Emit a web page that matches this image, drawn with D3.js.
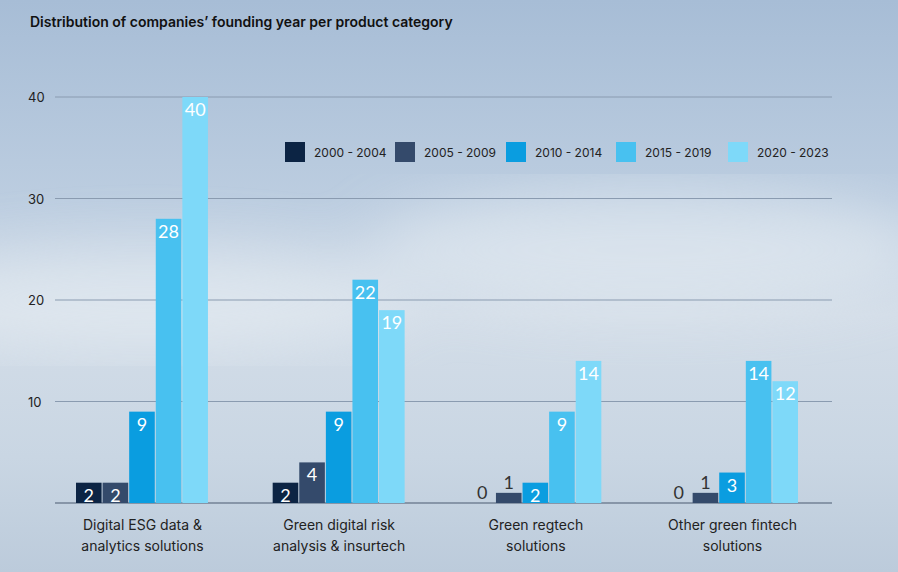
<!DOCTYPE html>
<html><head><meta charset="utf-8">
<script src="https://cdn.jsdelivr.net/npm/d3@7"></script>
<style>body{margin:0}svg{display:block}</style></head>
<body><svg id="c" width="898" height="572"></svg>
<script>
const categories=[["Digital ESG data &","analytics solutions"],["Green digital risk","analysis & insurtech"],["Green regtech","solutions"],["Other green fintech","solutions"]];
const seriesNames=["2000 - 2004","2005 - 2009","2010 - 2014","2015 - 2019","2020 - 2023"];
const colors=["#0c2444","#344a6b","#0a9de0","#48c1f0","#7ed9f9"];
const values=[[2,2,9,28,40],[2,4,9,22,19],[0,1,2,9,14],[0,1,3,14,12]];
const yTicks=[10,20,30,40];

const svg=d3.select("#c");
const defs=svg.append("defs");
const g=defs.append("linearGradient").attr("id","bg").attr("x1",0).attr("y1",0).attr("x2",0).attr("y2",1);
[[0,"#a7bdd6"],[0.35,"#bccde0"],[0.55,"#d3dde8"],[0.8,"#c9d6e3"],[1,"#bccbdb"]].forEach(([o,c])=>g.append("stop").attr("offset",o).attr("stop-color",c));
defs.append("filter").attr("id","blur").append("feGaussianBlur").attr("stdDeviation",30);
svg.append("rect").attr("width",898).attr("height",572).attr("fill","url(#bg)");
const cl=svg.append("g").attr("filter","url(#blur)").attr("fill","#e6edf3").attr("opacity",0.6);
cl.append("ellipse").attr("cx",150).attr("cy",300).attr("rx",260).attr("ry",50);
cl.append("ellipse").attr("cx",650).attr("cy",250).attr("rx",280).attr("ry",60);

svg.append("text").attr("x",30).attr("y",27).text("Distribution of companies’ founding year per product category")
  .attr("font-family","Inter, sans-serif").attr("font-weight",600).attr("font-size",14).attr("fill","#111");

const y=d3.scaleLinear().domain([0,40]).range([503,97]);
const x0=d3.scaleBand().domain(d3.range(4)).range([76,799]).paddingInner(0.324).paddingOuter(0);
const x1=d3.scaleBand().domain(d3.range(5)).range([0,x0.bandwidth()]).padding(0.0);

yTicks.forEach(t=>{
  svg.append("line").attr("x1",55).attr("x2",832).attr("y1",y(t)).attr("y2",y(t)).attr("stroke","#8a9bb0").attr("stroke-width",1);
  svg.append("text").attr("x",28).attr("y",y(t)+5).text(t).attr("font-family","Inter, sans-serif").attr("font-size",13).attr("fill","#222");
});
svg.append("line").attr("x1",55).attr("x2",832).attr("y1",y(0)).attr("y2",y(0)).attr("stroke","#4a5a70").attr("stroke-width",1.2);

values.forEach((vals,i)=>{
  const gg=svg.append("g").attr("transform",`translate(${x0(i)},0)`);
  vals.forEach((v,j)=>{
    const bx=x1(j), bw=x1.bandwidth()-1;
    gg.append("rect").attr("x",bx).attr("y",y(v)).attr("width",bw).attr("height",y(0)-y(v)).attr("fill",colors[j]);
    const inside=v>=2;
    gg.append("text").attr("x",bx+bw/2).attr("y",inside?y(v)+19:y(v)-4).attr("text-anchor","middle")
      .text(v).attr("font-family","Lato, sans-serif").attr("font-size",18).attr("font-weight",400)
      .attr("fill",inside?"#fff":"#333");
  });
  categories[i].forEach((l,k)=>svg.append("text").attr("x",x0(i)+x0.bandwidth()/2).attr("y",530+k*21)
    .attr("text-anchor","middle").text(l).attr("font-family","Inter, sans-serif").attr("font-size",14).attr("fill","#222"));
});

const legX=[285,395,506,616,728];
seriesNames.forEach((s,j)=>{
  svg.append("rect").attr("x",legX[j]).attr("y",142).attr("width",20).attr("height",20).attr("fill",colors[j]);
  svg.append("text").attr("x",legX[j]+29).attr("y",157).text(s).attr("font-family","Inter, sans-serif").attr("font-size",12).attr("fill","#222");
});
</script></body></html>
